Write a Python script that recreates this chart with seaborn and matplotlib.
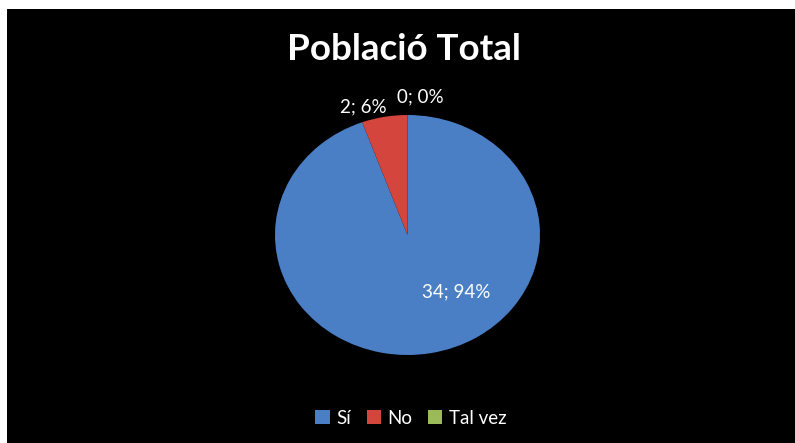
import matplotlib
matplotlib.use("Agg")
import matplotlib.pyplot as plt
import seaborn as sns
from matplotlib.patches import Rectangle

categories = ["Sí", "No", "Tal vez"]
values = [34, 2, 0]
colors = ["#4A7FC6", "#D4453D", "#9BBB59"]
title = "Població Total"

sns.set_theme(style="dark")
plt.rcParams["font.family"] = ["Lato", "DejaVu Sans"]

fig = plt.figure(figsize=(7.95, 4.43), dpi=100)
fig.patch.set_facecolor("black")
# white strips at top and left edges
fig.patches.append(Rectangle((0, 0), 7 / 795, 1, transform=fig.transFigure,
                             facecolor="white", edgecolor="none", zorder=5))
fig.patches.append(Rectangle((0, 1 - 9 / 443), 1, 9 / 443, transform=fig.transFigure,
                             facecolor="white", edgecolor="none", zorder=5))

ax = fig.add_axes([275 / 795, (443 - 355) / 443, 265 / 795, 240 / 443])
ax.set_facecolor("black")
total = sum(values)
labels = [f"{v}; {round(100 * v / total)}%" for v in values]
wedges, texts = ax.pie(values, colors=colors, startangle=90, counterclock=False,
                       labels=labels, labeldistance=0.6,
                       wedgeprops=dict(edgecolor="none"),
                       textprops=dict(color="white", fontsize=13.5))
ax.set_aspect("auto")
ax.set_xlim(-1, 1)
ax.set_ylim(-1, 1)
ax.axis("off")

# label positions like the reference
label_pos = [(0.37, -0.475), (-0.33, 1.07), (0.10, 1.15)]
for t, p in zip(texts, label_pos):
    t.set_position(p)
    t.set_ha("center")
    t.set_va("center")
    t.set_clip_on(False)

fig.text(0.508, 1 - 49 / 443, title, color="white", fontsize=26.5, fontweight="bold",
         ha="center", va="center")

leg = fig.legend(wedges, categories, loc="center", bbox_to_anchor=(0.517, 1 - 418 / 443),
                 ncol=3, frameon=False, fontsize=13.5, labelcolor="white",
                 handlelength=0.75, handleheight=0.75, handletextpad=0.35, columnspacing=0.85)

fig.savefig("out.png", dpi=100, facecolor=fig.get_facecolor())
